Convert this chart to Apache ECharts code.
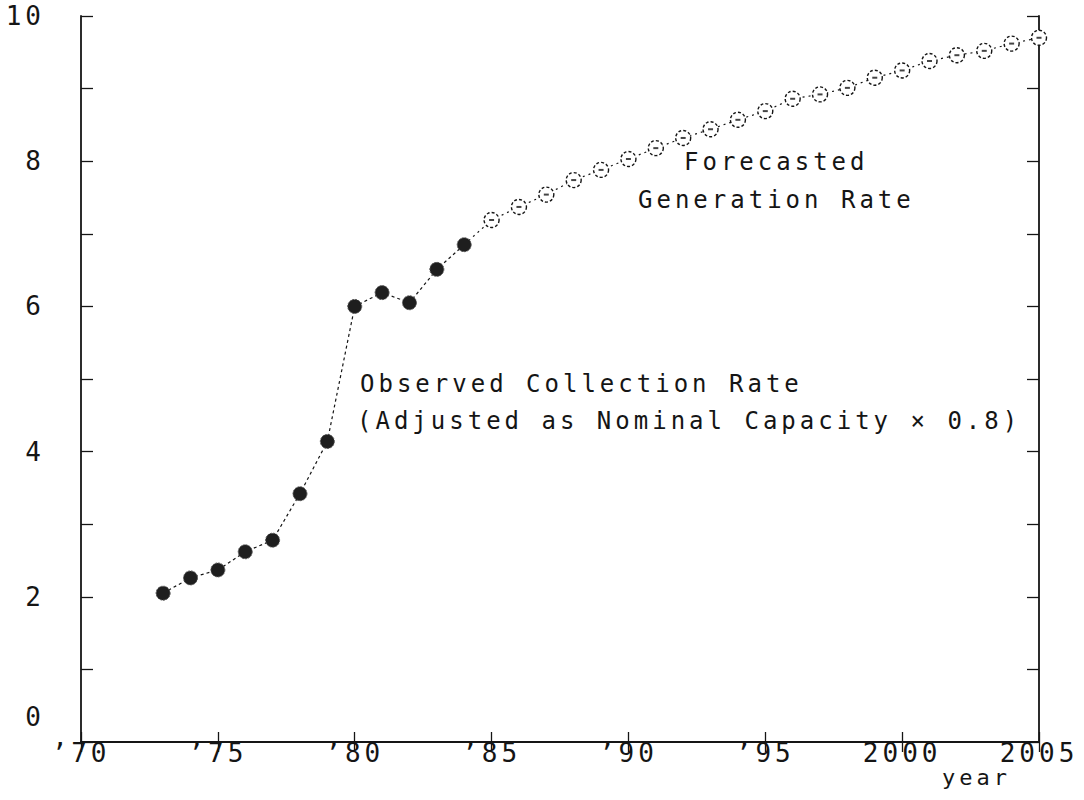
<!DOCTYPE html>
<html>
<head>
<meta charset="utf-8">
<script src="https://cdn.jsdelivr.net/npm/echarts@6/dist/echarts.min.js"></script>
<style>
  html, body { margin: 0; padding: 0; background: #fff; }
  #main { width: 1084px; height: 800px; }
  #main text { letter-spacing: 4px; }
</style>
</head>
<body>
<div id="main"></div>
<script>
// ---- data ----
const obsYears = [1973, 1974, 1975, 1976, 1977, 1978, 1979, 1980, 1981, 1982, 1983, 1984];
const obsValues = [2.05, 2.26, 2.37, 2.62, 2.78, 3.42, 4.14, 6.00, 6.19, 6.05, 6.51, 6.85];
const fcYears = [1985, 1986, 1987, 1988, 1989, 1990, 1991, 1992, 1993, 1994, 1995,
                 1996, 1997, 1998, 1999, 2000, 2001, 2002, 2003, 2004, 2005];
const fcValues = [7.19, 7.37, 7.54, 7.74, 7.88, 8.03, 8.18, 8.32, 8.44, 8.57, 8.69,
                  8.86, 8.92, 9.01, 9.15, 9.25, 9.38, 9.46, 9.52, 9.62, 9.70];
const xTickLabels = ["’70", "’75", "’80", "’85", "’90", "’95", "2000", "2005"];
const yTickLabels = ["0", "2", "4", "6", "8", "10"];
const xAxisName = "year";
const obsLabel = ["Observed Collection Rate", "(Adjusted as Nominal Capacity × 0.8)"];
const fcLabel = ["Forecasted", "Generation Rate"];

// ---- build ----
const FONT = '"DejaVu Sans Mono", "Liberation Mono", monospace';
const INK = '#151515';
const obsData = obsYears.map((y, i) => [y, obsValues[i]]);
const fcData = fcYears.map((y, i) => [y, fcValues[i]]);
const lastObs = obsData[obsData.length - 1];
const fcLineData = [{ value: lastObs, symbol: 'none' }].concat(fcData.map(d => ({ value: d })));

const axisLine = { show: true, lineStyle: { color: INK, width: 1.8 } };

const chart = echarts.init(document.getElementById('main'), null, { renderer: 'svg' });
chart.setOption({
  backgroundColor: '#ffffff',
  animation: false,
  grid: { left: 81, right: 45, top: 16, bottom: 58 },
  xAxis: [
    {
      type: 'value', position: 'bottom', min: 1970, max: 2005, interval: 5,
      axisLine: axisLine,
      axisTick: { show: true, inside: true, length: 10, lineStyle: { color: INK, width: 1.3 } },
      splitLine: { show: false },
      axisLabel: {
        margin: -2, color: INK, fontFamily: FONT, fontSize: 26,
        formatter: v => xTickLabels[Math.round((v - 1970) / 5)] || ''
      }
    },
    {
      type: 'value', position: 'top', min: 1970, max: 2005, interval: 5,
      axisLine: axisLine,
      axisTick: { show: true, inside: true, length: 10, lineStyle: { color: INK, width: 1.3 } },
      splitLine: { show: false },
      axisLabel: { show: false }
    }
  ],
  yAxis: [
    {
      type: 'value', position: 'left', min: 0, max: 10, interval: 1,
      axisLine: axisLine,
      axisTick: { show: true, inside: true, length: 12, lineStyle: { color: INK, width: 1.3 } },
      splitLine: { show: false },
      axisLabel: {
        margin: 36, color: INK, fontFamily: FONT, fontSize: 26,
        formatter: v => {
          if (v % 2 !== 0) return '';
          const t = yTickLabels[v / 2];
          return v === 0 ? '{zero|' + t + '}' : t;
        },
        rich: {
          zero: { fontFamily: FONT, fontSize: 26, color: INK, padding: [0, 0, 50, 0] }
        }
      }
    },
    {
      type: 'value', position: 'right', min: 0, max: 10, interval: 1,
      axisLine: axisLine,
      axisTick: { show: true, inside: true, length: 12, lineStyle: { color: INK, width: 1.3 } },
      splitLine: { show: false },
      axisLabel: { show: false }
    }
  ],
  series: [
    {
      type: 'line', xAxisIndex: 0, yAxisIndex: 0, data: fcLineData,
      symbol: 'circle', symbolSize: 15, z: 3,
      lineStyle: { color: INK, width: 1.2, type: [2, 4] },
      itemStyle: { color: '#ffffff', borderColor: INK, borderWidth: 1.4, borderType: [3, 2] }
    },
    {
      type: 'scatter', xAxisIndex: 0, yAxisIndex: 0, data: fcData,
      symbol: 'rect', symbolSize: [5, 2], z: 4,
      itemStyle: { color: INK }
    },
    {
      type: 'line', xAxisIndex: 0, yAxisIndex: 0, data: obsData,
      symbol: 'circle', symbolSize: 14, z: 5,
      lineStyle: { color: INK, width: 1.2, type: [3, 3] },
      itemStyle: { color: '#1e1e1e', borderColor: '#555', borderWidth: 1, borderType: [2, 1] }
    }
  ],
  graphic: [
    { type: 'text', x: 684, y: 162, style: { text: fcLabel[0], font: '24px ' + FONT, fill: INK, verticalAlign: 'middle' } },
    { type: 'text', x: 638, y: 200, style: { text: fcLabel[1], font: '24px ' + FONT, fill: INK, verticalAlign: 'middle' } },
    { type: 'text', x: 360, y: 384, style: { text: obsLabel[0], font: '24px ' + FONT, fill: INK, verticalAlign: 'middle' } },
    { type: 'text', x: 357, y: 421, style: { text: obsLabel[1], font: '24px ' + FONT, fill: INK, verticalAlign: 'middle' } },
    { type: 'text', x: 942, y: 777, style: { text: xAxisName, font: '22px ' + FONT, fill: INK, verticalAlign: 'middle' } }
  ]
});
</script>
</body>
</html>
